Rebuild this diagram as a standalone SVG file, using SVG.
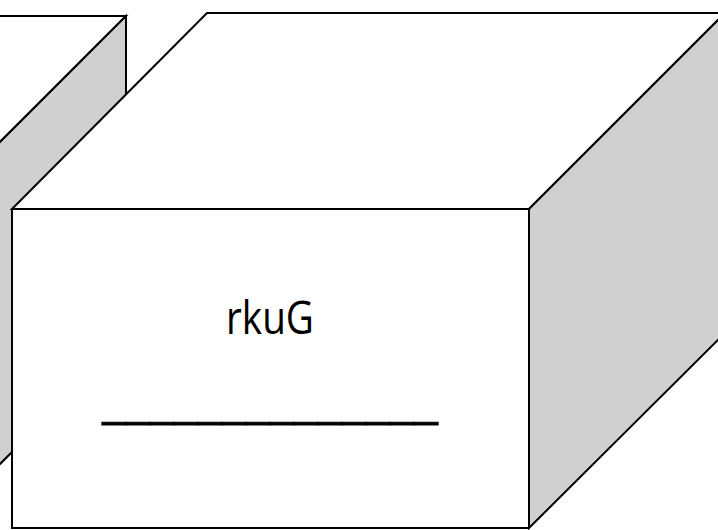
<svg xmlns="http://www.w3.org/2000/svg" width="718" height="530" viewBox="0 0 718 530">
<style>
.face{fill:#ffffff;stroke:#000;stroke-width:2;stroke-linejoin:miter}
.side{fill:#d0d0d0;stroke:#000;stroke-width:2;stroke-linejoin:miter}
.lbl{font-family:"Open Sans","Noto Sans",sans-serif;font-size:45px;fill:#000}
.ul{stroke:#000;stroke-width:0.9}
</style>
<rect width="718" height="530" fill="#fff"/>
<g id="back-cube">
<polygon class="face" points="-400,16 126,16 -100,242 -400,242"/>
<polygon class="side" points="126,16 126,338 -100,564 -100,242"/>
</g>
<g id="front-cube">
<polygon class="face" points="12,209 207,13 725,13 529,209"/>
<polygon class="side" points="529,209 725,13 725,333 529,528"/>
<rect class="face" x="12" y="209" width="517" height="319"/>
<text class="lbl" x="270" y="334" text-anchor="middle" textLength="88" lengthAdjust="spacingAndGlyphs">rkuG</text>
<text class="lbl ul" x="102" y="418" textLength="336" lengthAdjust="spacingAndGlyphs">______________</text>
</g>
</svg>
